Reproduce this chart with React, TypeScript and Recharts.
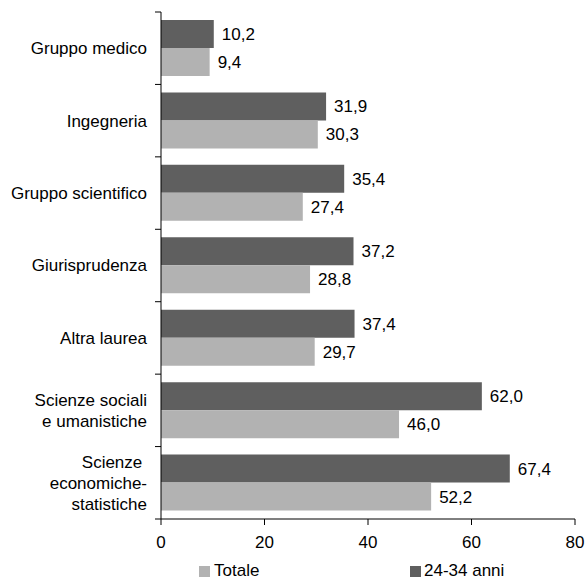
import React from 'react';
import { BarChart, Bar, XAxis, YAxis, LabelList, Legend } from 'recharts';

const categories = [
  'Gruppo medico',
  'Ingegneria',
  'Gruppo scientifico',
  'Giurisprudenza',
  'Altra laurea',
  'Scienze sociali\ne umanistiche',
  'Scienze\u00a0\neconomiche-\nstatistiche',
];
const giovani = [10.2, 31.9, 35.4, 37.2, 37.4, 62.0, 67.4];
const totale = [9.4, 30.3, 27.4, 28.8, 29.7, 46.0, 52.2];
const xTicks = [0, 20, 40, 60, 80];

const DARK = '#5f5f5f';
const LIGHT = '#b2b2b2';
const FONT = '"Liberation Sans", Arial, sans-serif';

const data = categories.map((name, i) => ({ name, giovani: giovani[i], totale: totale[i] }));

const fmt = (v: any) => Number(v).toFixed(1).replace('.', ',');

// category labels sit at band centre, tick marks go on the band edges
const CategoryTick = (props: any) => {
  const { x, y, payload, index } = props;
  const lines: string[] = String(payload.value).split('\n');
  const half = payload.offset || 36.2;
  const lineH = 21;
  return (
    <g>
      <line x1={x + 8} x2={x + 14} y1={y - half} y2={y - half} stroke="#000" />
      {index === categories.length - 1 && (
        <line x1={x + 8} x2={x + 14} y1={y + half} y2={y + half} stroke="#000" />
      )}
      <text x={x} y={y} textAnchor="end" fontSize={17} fill="#000" fontFamily={FONT}>
        {lines.map((l, i) => (
          <tspan key={i} x={x} y={y + (i - (lines.length - 1) / 2) * lineH} dy="0.35em">
            {l}
          </tspan>
        ))}
      </text>
    </g>
  );
};

const itemStyle: React.CSSProperties = {
  position: 'absolute',
  top: 0,
  display: 'flex',
  alignItems: 'center',
  height: 16,
  lineHeight: '16px',
};

const LegendContent = () => (
  <div style={{ position: 'relative', height: 16, fontFamily: FONT, fontSize: 17, color: '#000' }}>
    <div style={{ ...itemStyle, left: 199 }}>
      <span style={{ width: 11, height: 11, background: LIGHT, display: 'inline-block', marginRight: 4 }} />
      <span>Totale</span>
    </div>
    <div style={{ ...itemStyle, left: 410 }}>
      <span style={{ width: 11, height: 11, background: DARK, display: 'inline-block', marginRight: 3 }} />
      <span>24-34 anni</span>
    </div>
  </div>
);

export default function App() {
  return (
    <div style={{ position: 'absolute', left: 0, top: 0, width: 587, height: 579, background: '#fff', fontFamily: FONT }}>
      <BarChart
        width={587}
        height={579}
        data={data}
        layout="vertical"
        margin={{ top: 12, right: 12, bottom: 0, left: 0 }}
        barCategoryGap={8}
        barGap={0}
      >
        <XAxis
          type="number"
          domain={[0, 80]}
          ticks={xTicks}
          height={44}
          tickSize={6}
          tickMargin={11}
          stroke="#000"
          tick={{ fill: '#000', fontSize: 17, fontFamily: FONT }}
        />
        <YAxis
          type="category"
          dataKey="name"
          width={161}
          tickLine={false}
          tickSize={6}
          tickMargin={8}
          stroke="#000"
          interval={0}
          tick={<CategoryTick />}
        />
        <Legend verticalAlign="bottom" content={<LegendContent />} wrapperStyle={{ left: 0, width: 587, bottom: 0 }} />
        <Bar dataKey="giovani" name="24-34 anni" fill={DARK} isAnimationActive={false}>
          <LabelList dataKey="giovani" position="right" offset={8} formatter={fmt} fill="#000" fontSize={17} fontFamily={FONT} />
        </Bar>
        <Bar dataKey="totale" name="Totale" fill={LIGHT} isAnimationActive={false}>
          <LabelList dataKey="totale" position="right" offset={8} formatter={fmt} fill="#000" fontSize={17} fontFamily={FONT} />
        </Bar>
      </BarChart>
    </div>
  );
}
